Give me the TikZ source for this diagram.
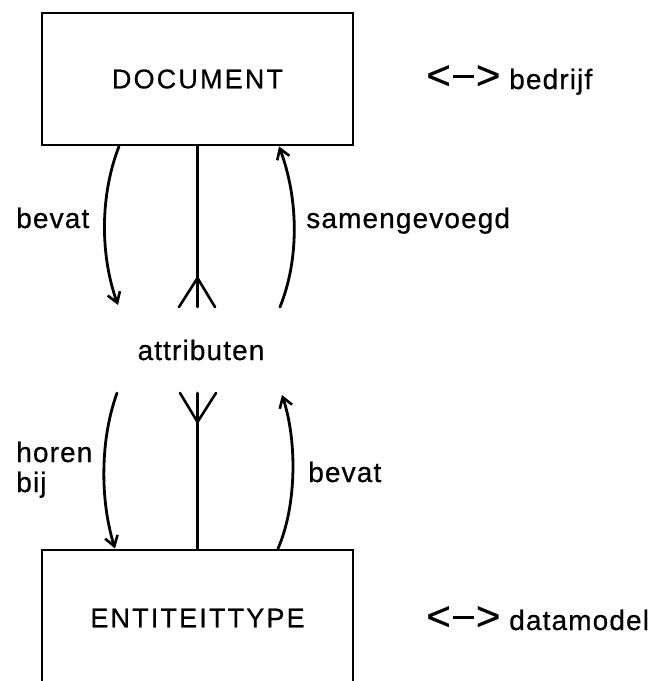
\documentclass[tikz,border=0pt]{standalone}
\usepackage{fontspec}
\usepackage{graphicx}
\setmainfont{Liberation Sans}
\usetikzlibrary{arrows.meta}
\newcommand{\lra}{\scalebox{1.5}[1.45]{<}\kern2pt\rule[11pt]{21pt}{2.6pt}\kern2pt\scalebox{1.5}[1.45]{>}}
\begin{document}
\begin{tikzpicture}[x=1pt,y=-1pt,line width=2.6pt,
  lbl/.style={font=\fontsize{28}{32}\selectfont\addfontfeature{LetterSpace=4,FakeBold=0.6},inner sep=0pt},
  caps/.style={font=\fontsize{27}{32}\selectfont\addfontfeature{LetterSpace=8,FakeBold=0.6},inner sep=0pt},
  entbox/.style={draw,line width=2.8pt,inner sep=0pt,minimum width=311pt},
  arr/.style={line width=2.8pt,line cap=round,-{Straight Barb[length=10pt,width=13pt,line width=2.6pt]}},
  fork/.style={line width=2.6pt,line cap=round}]
\useasboundingbox (0,0) rectangle (658,681);
% boxes (drawn first, text added at the end)
\node[entbox,minimum height=132pt] (doc) at (197.5,79) {};
\node[entbox,minimum height=136pt] (ent) at (197.5,618) {};
% free ends
\coordinate (a1) at (118,305);
\coordinate (a2) at (280,307);
\coordinate (f1) at (197.5,307);
\coordinate (f1a) at (197.5,278);
\coordinate (f1l) at (179,307);
\coordinate (f1r) at (215,307);
\coordinate (b1) at (117,393);
\coordinate (b2) at (282,395);
\coordinate (f2) at (197.5,393);
\coordinate (f2a) at (197.5,422);
\coordinate (f2l) at (180,393);
\coordinate (f2r) at (216,393);
% upper connectors
\draw[arr] ([xshift=-78.5pt]doc.south) .. controls (100,195) and (100,255) .. (a1);
\draw[arr] (a2) .. controls (299,260) and (299,200) .. ([xshift=81.5pt]doc.south);
\draw[fork] (doc.south) -- (f1);
\draw[fork] (f1l) -- (f1a) -- (f1r);
% lower connectors
\draw[arr] (b1) .. controls (100,440) and (100,500) .. ([xshift=-82.5pt]ent.north);
\draw[arr] ([xshift=80.5pt]ent.north) .. controls (297,505) and (297,440) .. (b2);
\draw[fork] (f2) -- (ent.north);
\draw[fork] (f2l) -- (f2a) -- (f2r);
% texts
\node[caps] (doct) at (doc.center) {DOCUMENT};
\node[caps] (entt) at (ent.center) {ENTITEITTYPE};
\node[lbl] (attr) at (201,350) {attributen};
\node[lbl,anchor=base west] (bedr) at (425,89) {\lra\ bedrijf};
\node[lbl,anchor=base west] (dmod) at (425,630) {\lra\ datamodel};
\node[lbl,anchor=base west] (l1) at (15,228) {bevat};
\node[lbl,anchor=base west] (l2) at (305,228) {samengevoegd};
\node[lbl,anchor=base west] (l3) at (15,462) {horen};
\node[lbl,anchor=base west] (l4) at (15,492) {bij};
\node[lbl,anchor=base west] (l5) at (307,482) {bevat};
\end{tikzpicture}
\end{document}
